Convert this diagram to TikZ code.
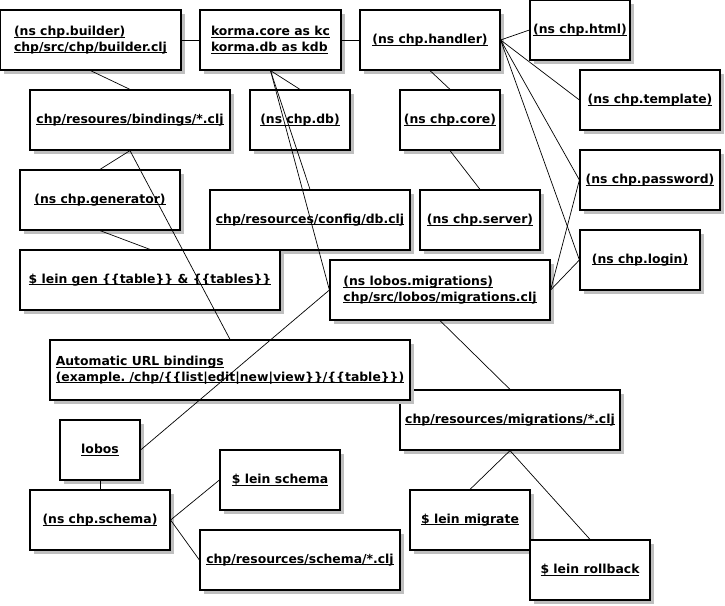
\documentclass[tikz,border=0pt]{standalone}
\usepackage{fontspec}
\setmainfont{DejaVu Sans}
\usetikzlibrary{shadows}
\frenchspacing
\newcommand\ulx[1]{\setbox0\hbox{#1}\rlap{\rule[-2pt]{\wd0}{0.9pt}}\box0}
\begin{document}
\begin{tikzpicture}[x=1pt,y=-1pt,
  box/.style={draw, line width=1.2pt, fill=white, minimum height=60pt, inner sep=0pt, align=left,
    font=\fontsize{12.4}{15.5}\selectfont\bfseries,
    general shadow={fill=black!25, draw=none, shadow xshift=4pt, shadow yshift=-4pt}},
  link/.style={draw, line width=0.7pt}]
\useasboundingbox (0,0) rectangle (725,605);
\node[box, minimum width=181] (builder) at (90.5,40) {\ulx{(ns chp.builder)}\\\ulx{chp/src/chp/builder.clj}};
\node[box, minimum width=141] (korma) at (270.5,40) {\ulx{korma.core as kc}\\\ulx{korma.db as kdb}};
\node[box, minimum width=140] (handler) at (430,40) {\ulx{(ns chp.handler)}};
\node[box, minimum width=100] (html) at (580,30) {\ulx{(ns chp.html)}};
\node[box, minimum width=140] (template) at (650,100) {\ulx{(ns chp.template)}};
\node[box, minimum width=200] (bindings) at (130,120) {\ulx{chp/resoures/bindings/*.clj}};
\node[box, minimum width=100] (db) at (300,120) {\ulx{(ns chp.db)}};
\node[box, minimum width=100] (core) at (450,120) {\ulx{(ns chp.core)}};
\node[box, minimum width=140] (password) at (650,180) {\ulx{(ns chp.password)}};
\node[box, minimum width=160] (generator) at (100,200) {\ulx{(ns chp.generator)}};
\node[box, minimum width=200] (config) at (310,220) {\ulx{chp/resources/config/db.clj}};
\node[box, minimum width=120] (server) at (480,220) {\ulx{(ns chp.server)}};
\node[box, minimum width=120] (login) at (640,260) {\ulx{(ns chp.login)}};
\node[box, minimum width=260] (leingen) at (150,280) {\ulx{\$ lein gen \{\{table\}\} \& \{\{tables\}\}}};
\node[box, minimum width=220] (lobosmig) at (440,290) {\ulx{(ns lobos.migrations)}\\\ulx{chp/src/lobos/migrations.clj}};
\node[box, minimum width=220] (migr) at (510,420) {\ulx{chp/resources/migrations/*.clj}};
\node[box, minimum width=360] (auto) at (230,370) {\ulx{Automatic URL bindings}\\\ulx{(example. /chp/\{\{list|edit|new|view\}\}/\{\{table\}\})}};
\node[box, minimum width=80] (lobos) at (100,450) {\ulx{lobos}};
\node[box, minimum width=140] (schema) at (100,520) {\ulx{(ns chp.schema)}};
\node[box, minimum width=120] (leinschema) at (280,480) {\ulx{\$ lein schema}};
\node[box, minimum width=200] (schemaclj) at (300,560) {\ulx{chp/resources/schema/*.clj}};
\node[box, minimum width=120] (migrate) at (470,520) {\ulx{\$ lein migrate}};
\node[box, minimum width=120] (rollback) at (590,570) {\ulx{\$ lein rollback}};
% connectors
\draw[link] (builder.east) -- (korma.west);
\draw[link] (korma.east) -- (handler.west);
\draw[link] (builder.south) -- (bindings.north);
\draw[link] (korma.south) -- (db.north);
\draw[link] (korma.south) -- (config.north);
\draw[link] (korma.south) -- (lobosmig.west);
\draw[link] (handler.south) -- (core.north);
\draw[link] (core.south) -- (server.north);
\draw[link] (handler.east) -- (html.west);
\draw[link] (handler.east) -- (template.west);
\draw[link] (handler.east) -- (password.west);
\draw[link] (handler.east) -- (login.west);
\draw[link] (lobosmig.east) -- (password.west);
\draw[link] (lobosmig.east) -- (login.west);
\draw[link] (bindings.south) -- (generator.north);
\draw[link] (bindings.south) -- (auto.north);
\draw[link] (generator.south) -- (leingen.north);
\draw[link] (lobos.east) -- (lobosmig.west);
\draw[link] (lobosmig.south) -- (migr.north);
\draw[link] (migr.south) -- (migrate.north);
\draw[link] (migr.south) -- (rollback.north);
\draw[link] (lobos.south) -- (schema.north);
\draw[link] (schema.east) -- (leinschema.west);
\draw[link] (schema.east) -- (schemaclj.west);
\end{tikzpicture}
\end{document}
